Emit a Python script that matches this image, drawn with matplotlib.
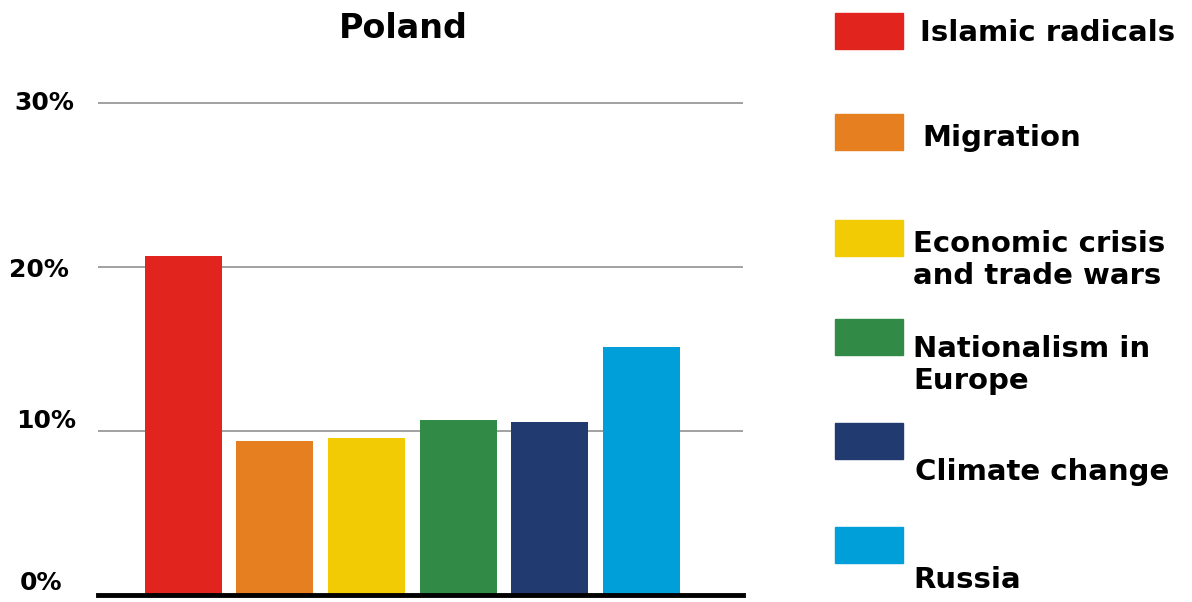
import matplotlib.pyplot as plt
from matplotlib.patches import Rectangle
from matplotlib.transforms import blended_transform_factory, offset_copy

plt.rcParams['font.family'] = ['DejaVu Sans']

# survey shares for Poland (%)
categories = ['Islamic radicals', 'Migration', 'Economic crisis\nand trade wars',
              'Nationalism in\nEurope', 'Climate change', 'Russia']
values = [20.65, 9.42, 9.57, 10.65, 10.56, 15.1]
colors = ['#E1251E', '#E57F1F', '#F2CB05', '#318A45', '#213B70', '#009FDA']
ticks = [0, 10, 20, 30]
tick_labels = ['0%', '10%', '20%', '30%']

W, H = 1192, 602
fig = plt.figure(figsize=(W / 100, H / 100), dpi=100)

ymax = 30.4
ax = fig.add_axes([98 / W, 7 / H, (743 - 98) / W, (595 - 103) / H * ymax / 30])
x = list(range(len(values)))
ax.bar(x, values, width=0.84, color=colors, zorder=2)
ax.set_xlim(-0.93, 6.11)
ax.set_ylim(0, ymax)

for s in ax.spines.values():
    s.set_visible(False)
ax.set_xticks([])
ax.set_yticks(ticks)
ax.set_yticklabels([])
ax.tick_params(axis='y', length=0)
ax.yaxis.grid(True, color='#9a9a9a', lw=1.3, zorder=1)
ax.axhline(0, color='black', lw=3.5, clip_on=False, zorder=3)

# y labels sit at the left edge of the figure, nudged a little off their lines
label_x = [20, 16, 9, 14]
label_dy = [12, 10, -3, 0]
trans = blended_transform_factory(fig.transFigure, ax.transData)
for t, lab, lx, dy in zip(ticks, tick_labels, label_x, label_dy):
    tr = offset_copy(trans, fig=fig, y=dy, units='dots')
    ax.text(lx / W, t, lab, transform=tr, ha='left', va='center',
            fontsize=18, fontweight='bold', clip_on=False)

fig.text(403 / W, 1 - 28 / H, 'Poland', ha='center', va='center',
         fontsize=24, fontweight='bold')

# legend boxes on the right, top edge y in pixels and text centre y
box_tops = [13, 114, 220, 319, 423, 527]
text_y = [33, 138, 260, 365, 472, 580]
text_x = [920, 922, 913, 913, 915, 913]
for cat, col, bt, ty, tx in zip(categories, colors, box_tops, text_y, text_x):
    fig.patches.append(Rectangle((835 / W, 1 - (bt + 36) / H), 68 / W, 36 / H,
                                 transform=fig.transFigure, color=col))
    fig.text(tx / W, 1 - ty / H, cat, ha='left', va='center', fontsize=21,
             fontweight='bold', linespacing=1.2)

fig.savefig('out.png', dpi=100)
